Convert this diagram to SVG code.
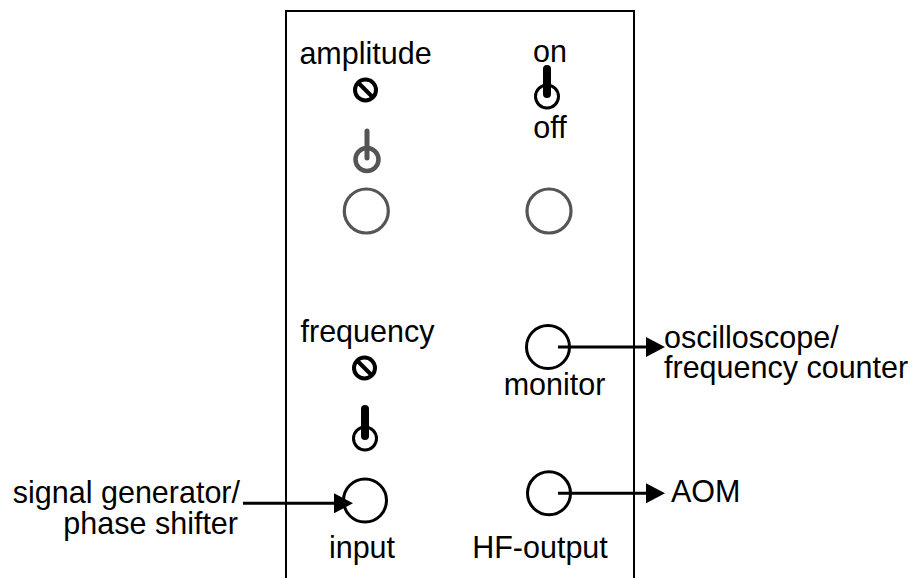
<svg xmlns="http://www.w3.org/2000/svg" width="918" height="578" viewBox="0 0 918 578">
<defs>
<style>
text{font-family:"Liberation Sans",Arial,sans-serif;font-size:30.5px;fill:#000}
.mid{text-anchor:middle}
.end{text-anchor:end}
.panel{fill:none;stroke:#000;stroke-width:2}
.jack{fill:none;stroke:#000;stroke-width:3}
.gjack{fill:none;stroke:#555;stroke-width:3.2}
.knob{fill:none;stroke:#000;stroke-width:4}
.tog{fill:none;stroke:#000;stroke-width:3}
.lever{stroke:#000;stroke-width:8;stroke-linecap:round}
.gtog{fill:none;stroke:#555;stroke-width:4.5}
.glever{stroke:#555;stroke-width:5;stroke-linecap:round}
.conn{stroke:#000;stroke-width:3;fill:none}
</style>
<marker id="ah" markerUnits="userSpaceOnUse" markerWidth="20" markerHeight="20" viewBox="0 0 20 20" refX="1" refY="10" orient="auto">
<path d="M0,0 L19,10 L0,20 z" fill="#000"/>
</marker>
</defs>
<rect width="918" height="578" fill="#fff"/>
<g id="panel">
<path class="panel" d="M286,590 V11 H634 V590"/>
</g>
<g id="amplitude">
<text class="mid" x="365.5" y="64">amplitude</text>
<circle class="knob" cx="365.5" cy="90" r="10.5"/>
<line class="knob" x1="358.5" y1="83" x2="372.5" y2="97"/>
</g>
<g id="amp-switch">
<line class="glever" x1="367" y1="131" x2="367" y2="158"/>
<circle class="gtog" cx="367" cy="159.5" r="11.5"/>
</g>
<g id="amp-jack">
<circle class="gjack" cx="366.3" cy="211" r="22"/>
</g>
<g id="onoff">
<text class="mid" x="550" y="61.5">on</text>
<line class="lever" x1="547" y1="69" x2="547" y2="94"/>
<circle class="tog" cx="547" cy="96.5" r="11.5"/>
<text class="mid" x="550" y="138">off</text>
</g>
<g id="right-jack">
<circle class="gjack" cx="549" cy="211" r="22"/>
</g>
<g id="frequency">
<text class="mid" x="367.5" y="342">frequency</text>
<circle class="knob" cx="364.5" cy="368" r="10.5"/>
<line class="knob" x1="357.5" y1="361" x2="371.5" y2="375"/>
</g>
<g id="freq-switch">
<line class="lever" x1="365" y1="409" x2="365" y2="436"/>
<circle class="tog" cx="365" cy="438.5" r="11.5"/>
</g>
<g id="monitor">
<circle class="jack" cx="548" cy="347" r="21.5"/>
<text class="mid" x="554.5" y="395">monitor</text>
</g>
<g id="input">
<circle class="jack" cx="365" cy="500.5" r="21.5"/>
<text class="mid" x="362" y="558">input</text>
</g>
<g id="hf-output">
<circle class="jack" cx="549" cy="493.3" r="21.5"/>
<text class="mid" x="540" y="558">HF-output</text>
</g>
<g id="oscilloscope">
<text x="664" y="348">oscilloscope/</text>
<text x="664" y="378">frequency counter</text>
</g>
<g id="aom">
<text x="671" y="502">AOM</text>
</g>
<g id="signal-generator">
<text class="end" x="240" y="503.3">signal generator/</text>
<text class="end" x="238" y="534">phase shifter</text>
</g>
<g id="connectors">
<line class="conn" x1="558" y1="347" x2="647" y2="347" marker-end="url(#ah)"/>
<line class="conn" x1="558" y1="493.3" x2="647" y2="493.3" marker-end="url(#ah)"/>
<line class="conn" x1="243" y1="503.3" x2="335" y2="503.3" marker-end="url(#ah)"/>
</g>
</svg>
